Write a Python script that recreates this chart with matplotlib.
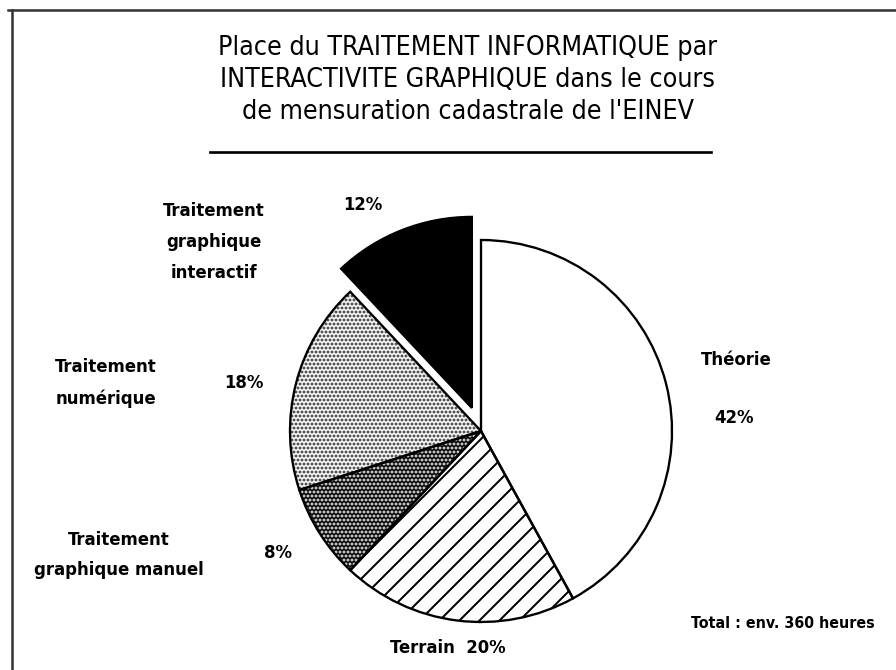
import matplotlib
matplotlib.use("Agg")
import matplotlib.pyplot as plt
from matplotlib.lines import Line2D

# ---- data ----
categories = ["Théorie", "Terrain", "Traitement graphique manuel",
              "Traitement numérique", "Traitement graphique interactif"]
values = [42, 20, 8, 18, 12]
explode_frac = [0, 0, 0, 0, 0.13]
title_lines = ["Place du TRAITEMENT INFORMATIQUE par",
               "INTERACTIVITE GRAPHIQUE dans le cours",
               "de mensuration cadastrale de l'EINEV"]
total_text = "Total : env. 360 heures"

W, H, DPI = 896, 670, 120
plt.rcParams['hatch.linewidth'] = 1.2
fig = plt.figure(figsize=(W / DPI, H / DPI), dpi=DPI)
ax = fig.add_axes([0, 0, 1, 1])

def Y(y):  # image-pixel y -> data y
    return H - y

center = (481, Y(431))
radius = 191
explode = [e * radius for e in explode_frac]  # pie's explode is in data units

faces = ["white", "white", "black", "white", "black"]
hatches = [None, "//", ".....", ".....", None]
hcols = ["black", "black", "white", "#222222", "black"]

wedges, _ = ax.pie(values, explode=explode, startangle=90, counterclock=False,
                   center=center, radius=radius, colors=faces,
                   wedgeprops=dict(linewidth=0), frame=True)
for w, h, c in zip(wedges, hatches, hcols):
    w.set_edgecolor(c)
    if h:
        w.set_hatch(h)
# outlines
ax.pie(values, explode=explode, startangle=90, counterclock=False,
       center=center, radius=radius,
       wedgeprops=dict(facecolor="none", edgecolor="black", linewidth=1.4),
       frame=True)
ax.set_xlim(0, W)
ax.set_ylim(0, H)
ax.set_aspect('equal')
ax.axis('off')

fam = ['DejaVu Sans']
tkw = dict(family=fam, fontstretch='condensed', color='black')

# title
for i, t in enumerate(title_lines):
    ax.text(468, Y(48 + 32 * i), t, ha='center', va='center', fontsize=16, **tkw)
ax.add_line(Line2D([210, 711], [Y(152), Y(152)], color='black', linewidth=1.6))

# frame (top and left)
ax.add_line(Line2D([8, W], [Y(10), Y(10)], color='#333333', linewidth=1.5))
ax.add_line(Line2D([12, 12], [Y(10), 0], color='#333333', linewidth=1.5))

lkw = dict(ha='center', va='center', fontweight='bold', linespacing=1.9, **tkw)
ax.text(214, Y(242), "Traitement\ngraphique\ninteractif", fontsize=11, **lkw)
ax.text(363, Y(205), f"{values[4]}%", fontsize=11, **lkw)
ax.text(106, Y(383), "Traitement\nnumérique", fontsize=11, **lkw)
ax.text(244, Y(383), f"{values[3]}%", fontsize=11, **lkw)
ax.text(119, Y(555), "Traitement\ngraphique manuel", fontsize=11, **lkw)
ax.text(278, Y(553), f"{values[2]}%", fontsize=11, **lkw)
ax.text(736, Y(360), "Théorie", fontsize=11, **lkw)
ax.text(734, Y(418), f"{values[0]}%", fontsize=11, **lkw)
ax.text(448, Y(648), f"Terrain  {values[1]}%", fontsize=11, **lkw)
ax.text(783, Y(623), total_text, fontsize=9.5, **lkw)

fig.savefig("out.png", dpi=DPI)
